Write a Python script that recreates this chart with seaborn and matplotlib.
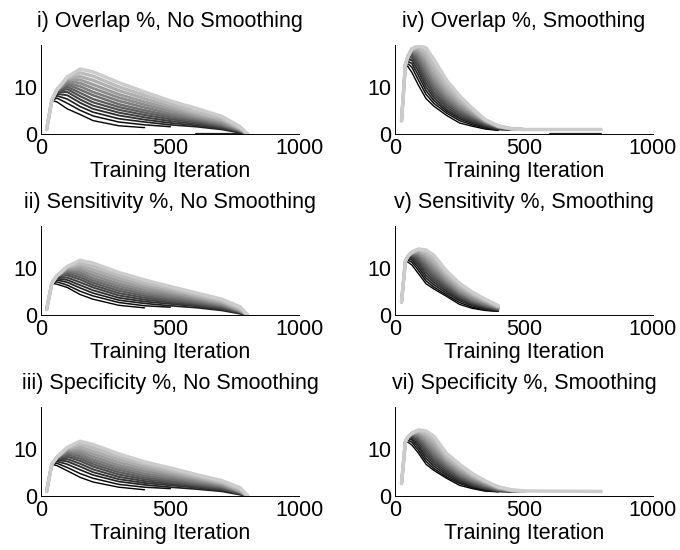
import numpy as np
import pandas as pd
import matplotlib
matplotlib.use("Agg")
import matplotlib.pyplot as plt
import seaborn as sns

nan = np.nan

# ---------------- data ----------------
# x positions (training iteration) at which the curves were read
X_LEFT = [20, 40, 60, 100, 150, 200, 300, 400, 500, 600, 700, 770, 800]
X_RIGHT = [25, 40, 50, 65, 90, 120, 150, 200, 250, 300, 350, 400, 450, 500, 800]

# each row: values of the 14 curves (darkest -> lightest) at one x position
OVERLAP_NOSMOOTH = [
    [1.0, 1.0, 1.0, 1.0, 1.0, 1.0, 1.0, 1.0, 1.0, 1.0, 1.0, 1.0, 1.0, 1.0],
    [7.2, 7.2, 7.2, 7.2, 7.2, 7.2, 7.2, 7.2, 7.2, 7.2, 7.2, 7.2, 7.2, 7.3],
    [6.9, 7.7, 8.2, 8.6, 8.9, 9.1, 9.2, 9.3, 9.4, 9.4, 9.5, 9.5, 9.5, 9.5],
    [5.4, 6.6, 7.5, 8.3, 9.0, 9.6, 10.1, 10.6, 11.0, 11.4, 11.7, 11.9, 12.1, 12.2],
    [4.2, 5.1, 5.9, 6.7, 7.4, 8.1, 8.8, 9.5, 10.2, 10.9, 11.6, 12.3, 13.1, 13.9],
    [2.9, 3.9, 4.7, 5.4, 6.1, 6.8, 7.5, 8.3, 9.0, 9.8, 10.6, 11.5, 12.4, 13.3],
    [1.8, 2.6, 3.3, 4.0, 4.6, 5.2, 5.8, 6.4, 7.1, 7.8, 8.5, 9.3, 10.1, 11.0],
    [1.4, 2.0, 2.6, 3.1, 3.6, 4.1, 4.6, 5.1, 5.7, 6.3, 6.9, 7.6, 8.3, 9.0],
    [nan, 1.6, 2.0, 2.4, 2.8, 3.2, 3.6, 4.0, 4.4, 4.9, 5.4, 5.9, 6.5, 7.1],
    [nan, nan, 1.6, 1.9, 2.2, 2.5, 2.8, 3.1, 3.4, 3.7, 4.0, 4.4, 4.8, 5.5],
    [nan, nan, 1.0, 1.2, 1.4, 1.6, 1.8, 2.0, 2.2, 2.5, 2.8, 3.1, 3.4, 3.8],
    [nan, nan, 0.3, 0.4, 0.5, 0.6, 0.7, 0.8, 0.9, 1.0, 1.1, 1.2, 1.4, 1.6],
    [nan, nan, 0.0, 0.0, 0.0, 0.0, 0.0, 0.0, 0.0, 0.0, 0.0, 0.0, 0.0, 0.0],
]

SENSITIVITY_NOSMOOTH = [
    [1.2, 1.2, 1.2, 1.2, 1.2, 1.2, 1.2, 1.2, 1.2, 1.2, 1.2, 1.2, 1.2, 1.2],
    [6.8, 6.8, 6.8, 6.8, 6.8, 6.8, 6.8, 6.8, 6.8, 6.8, 6.8, 6.8, 6.8, 6.8],
    [6.6, 7.1, 7.5, 7.8, 8.0, 8.2, 8.3, 8.4, 8.4, 8.4, 8.4, 8.4, 8.4, 8.4],
    [5.9, 6.4, 7.0, 7.5, 8.0, 8.5, 8.9, 9.3, 9.6, 9.8, 10.0, 10.2, 10.3, 10.4],
    [4.4, 5.1, 5.8, 6.4, 7.0, 7.6, 8.1, 8.6, 9.1, 9.6, 10.1, 10.6, 11.1, 11.7],
    [3.4, 4.1, 4.7, 5.3, 5.9, 6.4, 6.9, 7.4, 7.9, 8.5, 9.1, 9.7, 10.4, 11.1],
    [2.1, 2.7, 3.2, 3.7, 4.2, 4.7, 5.2, 5.7, 6.2, 6.7, 7.3, 7.9, 8.5, 9.1],
    [1.55, 2.0, 2.5, 2.9, 3.3, 3.7, 4.1, 4.5, 4.9, 5.4, 5.9, 6.4, 6.9, 7.5],
    [nan, 1.7, 2.0, 2.4, 2.7, 3.0, 3.3, 3.7, 4.1, 4.5, 4.9, 5.3, 5.7, 6.1],
    [nan, nan, 1.6, 1.9, 2.1, 2.4, 2.6, 2.9, 3.2, 3.5, 3.8, 4.1, 4.4, 4.75],
    [nan, nan, 1.0, 1.2, 1.4, 1.6, 1.8, 2.0, 2.2, 2.4, 2.6, 2.9, 3.1, 3.4],
    [nan, nan, 0.3, 0.4, 0.5, 0.6, 0.7, 0.8, 0.9, 1.0, 1.1, 1.3, 1.5, 1.8],
    [nan, nan, 0.0, 0.0, 0.0, 0.0, 0.0, 0.0, 0.0, 0.0, 0.0, 0.0, 0.0, 0.0],
]

SPECIFICITY_NOSMOOTH = [
    [1.0, 1.0, 1.0, 1.0, 1.0, 1.0, 1.0, 1.0, 1.0, 1.0, 1.0, 1.0, 1.0, 1.0],
    [6.8, 6.8, 6.8, 6.8, 6.8, 6.8, 6.8, 6.8, 6.8, 6.8, 6.8, 6.8, 6.8, 6.8],
    [6.5, 7.0, 7.4, 7.7, 7.9, 8.1, 8.2, 8.3, 8.3, 8.3, 8.3, 8.3, 8.3, 8.3],
    [5.4, 6.1, 6.8, 7.4, 7.9, 8.4, 8.8, 9.2, 9.5, 9.8, 10.0, 10.2, 10.3, 10.4],
    [4.0, 4.8, 5.6, 6.3, 6.9, 7.5, 8.0, 8.5, 9.0, 9.5, 10.0, 10.5, 11.1, 11.7],
    [3.0, 3.8, 4.5, 5.1, 5.7, 6.3, 6.8, 7.3, 7.8, 8.4, 9.0, 9.6, 10.3, 11.0],
    [1.9, 2.5, 3.1, 3.6, 4.1, 4.6, 5.1, 5.6, 6.1, 6.6, 7.2, 7.8, 8.4, 9.0],
    [1.35, 1.9, 2.4, 2.8, 3.2, 3.6, 4.0, 4.4, 4.8, 5.3, 5.8, 6.3, 6.8, 7.3],
    [nan, 1.6, 1.9, 2.3, 2.6, 2.9, 3.2, 3.6, 4.0, 4.4, 4.8, 5.2, 5.6, 6.0],
    [nan, nan, 1.5, 1.8, 2.0, 2.3, 2.5, 2.8, 3.1, 3.4, 3.7, 4.0, 4.3, 4.6],
    [nan, nan, 1.0, 1.2, 1.4, 1.6, 1.8, 2.0, 2.2, 2.4, 2.6, 2.8, 3.0, 3.3],
    [nan, nan, 0.3, 0.4, 0.5, 0.6, 0.7, 0.8, 0.9, 1.0, 1.1, 1.3, 1.5, 1.8],
    [nan, nan, 0.0, 0.0, 0.0, 0.0, 0.0, 0.0, 0.0, 0.0, 0.0, 0.0, 0.0, 0.0],
]

OVERLAP_SMOOTH = [
    [2.85, 2.85, 2.85, 2.85, 2.85, 2.85, 2.85, 2.85, 2.85, 2.85, 2.85, 2.85, 2.85, 2.85],
    [14.8, 14.8, 14.8, 14.8, 14.8, 14.8, 14.8, 14.8, 14.8, 14.8, 14.8, 14.8, 14.8, 14.8],
    [14.4, 15.0, 15.5, 15.9, 16.2, 16.4, 16.5, 16.6, 16.6, 16.6, 16.6, 16.6, 16.6, 16.6],
    [13.2, 14.3, 15.1, 15.8, 16.4, 16.9, 17.3, 17.6, 17.8, 18.0, 18.1, 18.2, 18.2, 18.2],
    [10.5, 11.6, 12.6, 13.5, 14.3, 15.0, 15.7, 16.3, 16.9, 17.4, 17.9, 18.3, 18.6, 18.9],
    [7.6, 8.5, 9.3, 10.1, 10.9, 11.7, 12.5, 13.3, 14.1, 14.9, 15.7, 16.5, 17.4, 18.4],
    [6.0, 6.6, 7.2, 7.8, 8.4, 9.0, 9.7, 10.4, 11.1, 11.8, 12.6, 13.5, 14.6, 16.0],
    [4.0, 4.5, 4.9, 5.3, 5.8, 6.3, 6.8, 7.3, 7.8, 8.4, 9.0, 9.7, 10.5, 11.5],
    [2.4, 2.9, 3.3, 3.6, 4.0, 4.4, 4.8, 5.2, 5.6, 6.0, 6.5, 7.0, 7.6, 8.2],
    [1.7, 2.0, 2.3, 2.6, 2.9, 3.2, 3.5, 3.8, 4.0, 4.3, 4.6, 4.9, 5.2, 5.5],
    [1.1, 1.3, 1.5, 1.7, 1.9, 2.1, 2.3, 2.4, 2.6, 2.7, 2.8, 2.9, 3.0, 3.1],
    [0.8, 0.9, 1.0, 1.1, 1.2, 1.3, 1.4, 1.5, 1.5, 1.6, 1.6, 1.7, 1.7, 1.8],
    [nan, nan, 0.9, 0.95, 1.0, 1.0, 1.05, 1.1, 1.1, 1.1, 1.15, 1.15, 1.2, 1.2],
    [nan, nan, nan, nan, 1.0, 1.0, 1.0, 1.0, 1.0, 1.0, 1.0, 1.0, 1.0, 1.0],
    [nan, nan, nan, nan, nan, nan, nan, nan, nan, nan, nan, nan, nan, 1.0],
]

SENSITIVITY_SMOOTH = [
    [2.8, 2.8, 2.8, 2.8, 2.8, 2.8, 2.8, 2.8, 2.8, 2.8, 2.8, 2.8, 2.8, 2.8],
    [11.5, 11.5, 11.5, 11.5, 11.5, 11.5, 11.5, 11.5, 11.5, 11.5, 11.5, 11.5, 11.5, 11.5],
    [11.3, 11.7, 12.0, 12.2, 12.4, 12.5, 12.6, 12.6, 12.6, 12.6, 12.6, 12.6, 12.6, 12.6],
    [10.7, 11.3, 11.8, 12.2, 12.5, 12.8, 13.0, 13.1, 13.2, 13.3, 13.3, 13.4, 13.4, 13.4],
    [8.9, 9.6, 10.2, 10.8, 11.3, 11.8, 12.2, 12.6, 13.0, 13.3, 13.6, 13.8, 14.0, 14.1],
    [6.7, 7.3, 7.9, 8.5, 9.1, 9.7, 10.3, 10.9, 11.4, 11.9, 12.4, 12.9, 13.4, 13.9],
    [5.6, 6.0, 6.5, 7.0, 7.5, 8.0, 8.5, 9.0, 9.6, 10.2, 10.8, 11.4, 12.1, 12.8],
    [4.0, 4.3, 4.7, 5.1, 5.5, 5.9, 6.3, 6.7, 7.1, 7.5, 7.9, 8.4, 8.9, 9.4],
    [2.3, 2.7, 3.1, 3.4, 3.7, 4.0, 4.3, 4.6, 4.9, 5.2, 5.6, 6.0, 6.4, 6.8],
    [1.45, 1.7, 2.0, 2.3, 2.5, 2.7, 2.9, 3.2, 3.4, 3.7, 4.0, 4.3, 4.6, 4.9],
    [1.0, 1.1, 1.3, 1.5, 1.7, 1.9, 2.0, 2.2, 2.4, 2.6, 2.8, 3.0, 3.2, 3.4],
    [0.8, 0.85, 0.9, 1.0, 1.1, 1.2, 1.3, 1.4, 1.5, 1.6, 1.7, 1.8, 1.9, 2.05],
    [nan, nan, nan, nan, nan, nan, nan, nan, nan, nan, nan, nan, nan, nan],
    [nan, nan, nan, nan, nan, nan, nan, nan, nan, nan, nan, nan, nan, nan],
    [nan, nan, nan, nan, nan, nan, nan, nan, nan, nan, nan, nan, nan, nan],
]

SPECIFICITY_SMOOTH = [
    [2.7, 2.7, 2.7, 2.7, 2.7, 2.7, 2.7, 2.7, 2.7, 2.7, 2.7, 2.7, 2.7, 2.7],
    [11.6, 11.6, 11.6, 11.6, 11.6, 11.6, 11.6, 11.6, 11.6, 11.6, 11.6, 11.6, 11.6, 11.6],
    [11.5, 11.9, 12.2, 12.4, 12.5, 12.6, 12.6, 12.6, 12.6, 12.6, 12.6, 12.6, 12.6, 12.6],
    [10.9, 11.5, 12.0, 12.4, 12.7, 12.9, 13.1, 13.2, 13.3, 13.3, 13.4, 13.4, 13.4, 13.4],
    [9.2, 9.8, 10.4, 10.9, 11.4, 11.9, 12.3, 12.7, 13.0, 13.3, 13.6, 13.8, 14.0, 14.1],
    [6.8, 7.4, 8.0, 8.6, 9.2, 9.8, 10.4, 10.9, 11.4, 11.9, 12.4, 12.9, 13.4, 13.9],
    [5.5, 5.9, 6.4, 6.9, 7.4, 7.9, 8.4, 8.9, 9.5, 10.1, 10.7, 11.4, 12.1, 12.8],
    [3.8, 4.1, 4.5, 4.9, 5.3, 5.7, 6.1, 6.5, 6.9, 7.3, 7.7, 8.1, 8.6, 9.1],
    [2.3, 2.7, 3.0, 3.3, 3.6, 3.9, 4.2, 4.5, 4.8, 5.2, 5.6, 6.0, 6.4, 6.8],
    [1.6, 1.8, 2.0, 2.2, 2.4, 2.7, 2.9, 3.2, 3.4, 3.7, 4.0, 4.2, 4.5, 4.8],
    [1.05, 1.2, 1.35, 1.5, 1.65, 1.8, 2.0, 2.2, 2.4, 2.6, 2.8, 3.0, 3.1, 3.25],
    [0.93, 0.95, 1.0, 1.05, 1.1, 1.2, 1.3, 1.4, 1.5, 1.6, 1.7, 1.8, 1.9, 2.0],
    [nan, nan, 0.95, 0.95, 1.0, 1.0, 1.05, 1.1, 1.1, 1.15, 1.2, 1.2, 1.3, 1.35],
    [nan, nan, nan, nan, 1.0, 1.0, 1.0, 1.0, 1.0, 1.0, 1.0, 1.0, 1.0, 1.1],
    [nan, nan, nan, nan, nan, nan, nan, nan, nan, nan, nan, nan, nan, 1.0],
]

# dark segment lying on the x axis in the two Overlap panels
ZERO_X = [600, 800]
ZERO_Y = [0.0, 0.0]

TITLES = [
    "i) Overlap %, No Smoothing", "iv) Overlap %, Smoothing",
    "ii) Sensitivity %, No Smoothing", "v) Sensitivity %, Smoothing",
    "iii) Specificity %, No Smoothing", "vi) Specificity %, Smoothing",
]
PANELS = [
    (X_LEFT, OVERLAP_NOSMOOTH), (X_RIGHT, OVERLAP_SMOOTH),
    (X_LEFT, SENSITIVITY_NOSMOOTH), (X_RIGHT, SENSITIVITY_SMOOTH),
    (X_LEFT, SPECIFICITY_NOSMOOTH), (X_RIGHT, SPECIFICITY_SMOOTH),
]
HAS_ZERO_SEGMENT = [True, True, False, False, False, False]
X_TICKS = [0, 500, 1000]
Y_TICKS = [0, 10]
X_LABEL = "Training Iteration"

# ---------------- drawing ----------------
sns.set_style("white")
plt.rcParams["font.family"] = ["Liberation Sans", "DejaVu Sans"]
plt.rcParams["text.color"] = "black"
plt.rcParams["axes.labelcolor"] = "black"
FS = 15.5

fig = plt.figure(figsize=(6.8, 5.5), dpi=100)
lefts = [0.061, 0.581]
bottoms = [0.756, 0.427, 0.098]
W, H = 0.379, 0.162


def to_long(xs, table):
    arr = np.array(table, dtype=float)
    rows = []
    for k in range(arr.shape[1]):
        for j, x in enumerate(xs):
            if not np.isnan(arr[j, k]):
                rows.append((x, arr[j, k], k))
    return pd.DataFrame(rows, columns=["iteration", "value", "curve"])


for i, ((xs, table), title) in enumerate(zip(PANELS, TITLES)):
    r, c = i // 2, i % 2
    ax = fig.add_axes([lefts[c], bottoms[r], W, H])
    df = to_long(xs, table)
    n = df["curve"].nunique()
    if HAS_ZERO_SEGMENT[i]:
        sns.lineplot(x=ZERO_X, y=ZERO_Y, ax=ax, color="0.15", linewidth=1.6,
                     estimator=None, sort=False, legend=False)
    for k in range(n):
        t = k / (n - 1)
        g = 0.8 * t
        lw = 1.0 + 1.5 * t
        sub = df[df["curve"] == k]
        sns.lineplot(data=sub, x="iteration", y="value", ax=ax, color=(g, g, g),
                     linewidth=lw, estimator=None, sort=False, legend=False)
    ax.set_xlim(0, 1000)
    ax.set_ylim(0, 19)
    ax.set_xticks(X_TICKS)
    ax.set_yticks(Y_TICKS)
    ax.tick_params(direction="in", length=4, width=0.7, labelsize=FS, pad=3,
                   colors="black")
    for s in ["top", "right"]:
        ax.spines[s].set_visible(False)
    for s in ["left", "bottom"]:
        ax.spines[s].set_color("black")
        ax.spines[s].set_linewidth(0.7)
    ax.set_xlabel(X_LABEL, fontsize=FS, labelpad=1)
    ax.set_ylabel("")
    ax.set_title(title, fontsize=FS, pad=13)

fig.savefig("out.png", dpi=100)
